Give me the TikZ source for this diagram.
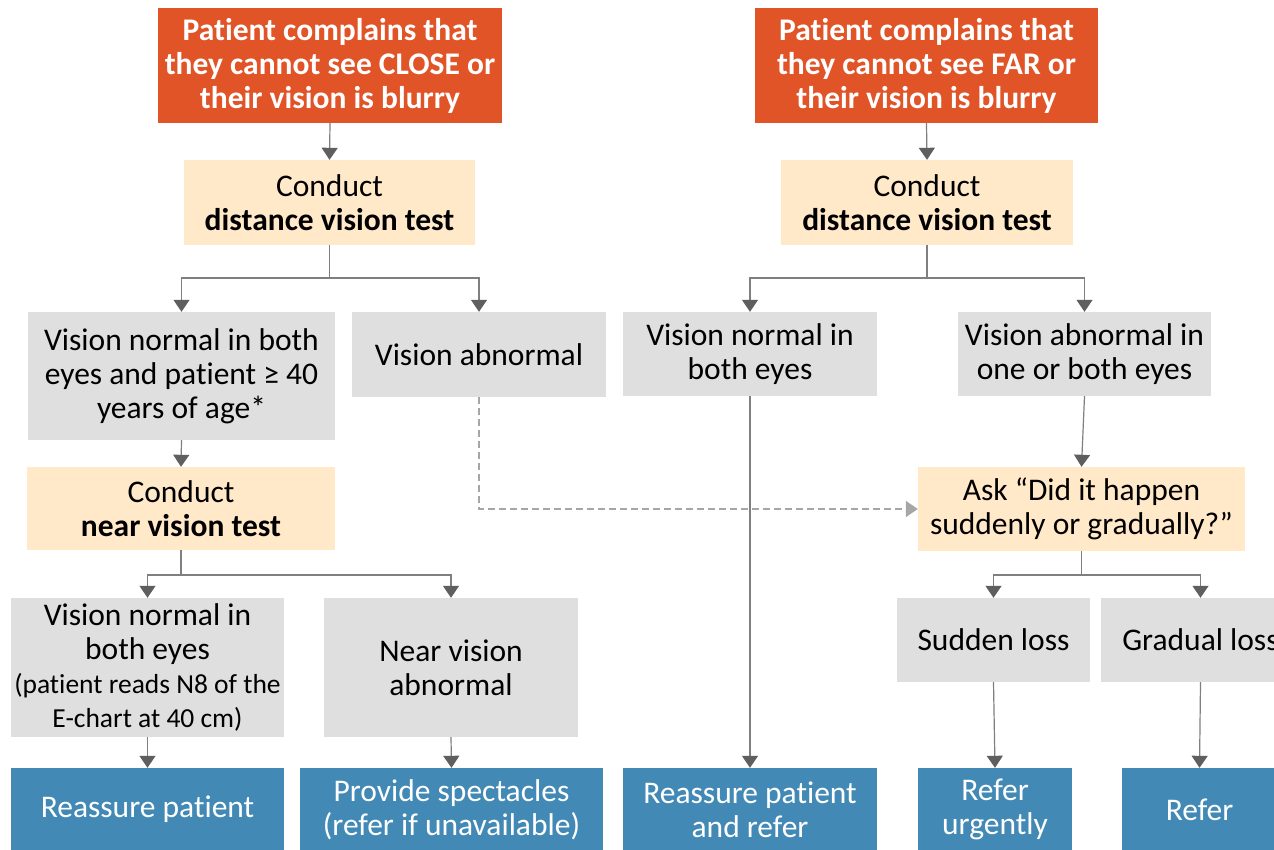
\documentclass[tikz,border=0pt]{standalone}
\usepackage{fontspec}
\setmainfont{Carlito}[Ligatures=NoCommon]
\usepackage{tikz}
\usetikzlibrary{arrows.meta}
\definecolor{startorange}{HTML}{E05427}
\definecolor{testcream}{HTML}{FFE9C9}
\definecolor{resultgray}{HTML}{DFDFDF}
\definecolor{actionblue}{HTML}{428AB5}
\definecolor{linegray}{HTML}{7F7F7F}
\definecolor{tipgray}{HTML}{5F5F5F}
\definecolor{dashgray}{HTML}{A6A6A6}

\begin{document}
\begin{tikzpicture}[x=1pt,y=-1pt,
    box/.style={inner sep=0pt, align=center, minimum height=84pt, font=\fontsize{31.5}{34}\selectfont},
    start/.style={box, fill=startorange, text=white, minimum height=115pt, font=\fontsize{31.5}{34}\selectfont\bfseries},
    testbox/.style={box, fill=testcream},
    result/.style={box, fill=resultgray},
    action/.style={box, fill=actionblue, text=white, minimum height=83pt},
    arr/.style={draw=linegray, line width=1.2pt, -{Triangle[width=16pt,length=12pt,color=tipgray]}},
    link/.style={draw=linegray, line width=1.2pt},
    dashlink/.style={draw=dashgray, line width=1.4pt, dash pattern=on 7pt off 4pt, -{Triangle[width=16pt,length=12pt,color=dashgray]}}]
    \fill[white] (0,0) rectangle (1274,850);
    \useasboundingbox (0,0) rectangle (1274,850);
    % starting complaints
    \node[start, minimum width=344pt] (o1) at (330,65.5) {Patient complains that\\they cannot see CLOSE or\\their vision is blurry};
    \node[start, minimum width=343pt] (o2) at (926.5,65.5) {Patient complains that\\they cannot see FAR or\\their vision is blurry};
    \node[testbox, minimum width=291pt, minimum height=85pt] (d1) at (329.5,202.5) {Conduct\\\textbf{distance vision test}};
    \node[testbox, minimum width=292pt, minimum height=85pt] (d2) at (927,202.5) {Conduct\\\textbf{distance vision test}};
    % distance test results
    \node[result, minimum width=307pt, minimum height=128pt] (vn1) at (181.5,376) {Vision normal in both\\eyes and patient ≥ 40\\years of age*};
    \node[result, minimum width=254pt, minimum height=85pt] (va1) at (479,354.5) {Vision abnormal};
    \node[result, minimum width=254pt] (vn2) at (750,354) {Vision normal in\\both eyes};
    \node[result, minimum width=253pt] (va2) at (1084.5,354) {Vision abnormal in\\one or both eyes};
    \node[testbox, minimum width=308pt, minimum height=83pt] (nt) at (181,508.5) {Conduct\\\textbf{near vision test}};
    \node[testbox, minimum width=327pt] (ask) at (1081.5,509) {Ask “Did it happen\\suddenly or gradually?”};
    % near test results
    \node[result, minimum width=273pt, minimum height=139pt] (vn3) at (147.5,667.5) {Vision normal in\\both eyes\\\fontsize{27.5}{30}\selectfont(patient reads N8 of the\\\fontsize{27.5}{30}\selectfont E-chart at 40 cm)};
    \node[result, minimum width=254pt, minimum height=139pt] (na) at (451,667.5) {Near vision\\abnormal};
    \node[result, minimum width=193pt] (sl) at (993.5,640) {Sudden loss};
    \node[result, minimum width=199pt] (gl) at (1200.5,640) {Gradual loss};
    % actions
    \node[action, minimum width=273pt] (rp1) at (147.5,809.5) {Reassure patient};
    \node[action, minimum width=303pt] (ps) at (451.5,809.5) {Provide spectacles\\(refer if unavailable)};
    \node[action, minimum width=254pt] (rp2) at (750,809.5) {Reassure patient\\and refer};
    \node[action, minimum width=154pt] (ru) at (995,809.5) {Refer\\urgently};
    \node[action, minimum width=155pt] (rf) at (1199.5,809.5) {Refer};

    \foreach \s/\t in {o1/d1, o2/d2, vn1/nt, vn3/rp1, na/ps, vn2/rp2, va2/ask, sl/ru, gl/rf}
        \draw[arr] (\s.south) -- (\t.north);
    \foreach \s/\y/\a/\b in {d1/278/vn1/va1, d2/278/vn2/va2, nt/575/vn3/na, ask/575/sl/gl} {
        \coordinate (\s-j) at (\s.south |- 0,\y);
        \draw[link] (\s.south) -- (\s-j);
        \draw[arr] (\s-j) -| (\a.north);
        \draw[arr] (\s-j) -| (\b.north);
    }
    \draw[dashlink] (va1.south) |- (ask.west);
\end{tikzpicture}
\end{document}
